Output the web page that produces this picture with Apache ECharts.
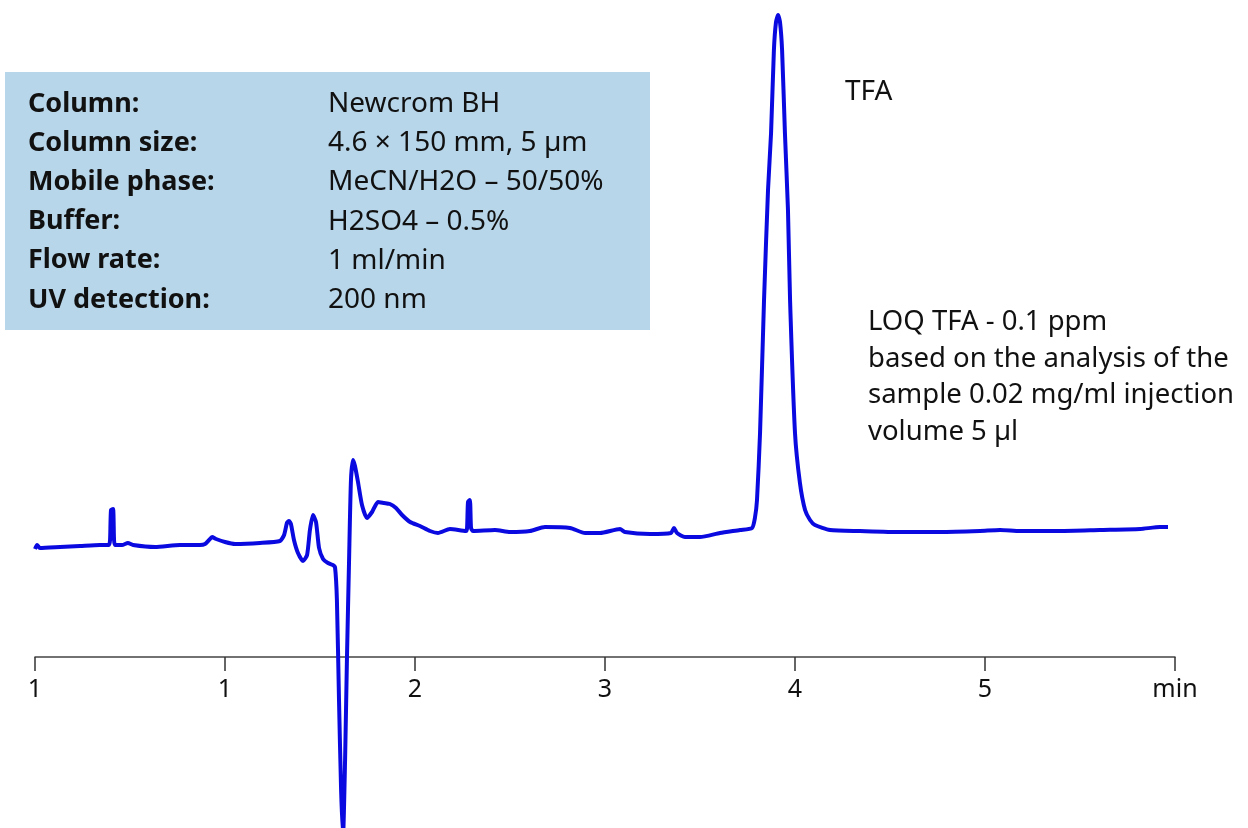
<!DOCTYPE html>
<html>
<head>
<meta charset="utf-8">
<script src="https://cdn.jsdelivr.net/npm/echarts@6/dist/echarts.min.js"></script>
<style>
  html, body { margin: 0; padding: 0; background: #fff; }
  #main { width: 1248px; height: 828px; }
</style>
</head>
<body>
<div id="main"></div>
<script>
// retention time (min) and detector signal
var timeMin = [0.000, 0.011, 0.026, 0.132, 0.237, 0.342, 0.389, 0.395, 0.400, 0.411, 0.416, 0.421, 0.458, 0.489, 0.516,
    0.632, 0.763, 0.868, 0.895, 0.916, 0.932, 0.953, 1.000, 1.053, 1.184, 1.289, 1.311, 1.326, 1.337, 1.347, 1.363,
    1.384, 1.411, 1.432, 1.447, 1.463, 1.479, 1.495, 1.516, 1.542, 1.568, 1.579, 1.589, 1.600, 1.611, 1.621, 1.632,
    1.642, 1.653, 1.663, 1.674, 1.684, 1.700, 1.721, 1.747, 1.774, 1.805, 1.837, 1.868, 1.900, 1.932, 1.974, 2.026,
    2.079, 2.121, 2.184, 2.268, 2.274, 2.279, 2.289, 2.295, 2.305, 2.421, 2.500, 2.605, 2.684, 2.816, 2.895, 2.974,
    3.079, 3.105, 3.237, 3.347, 3.363, 3.379, 3.421, 3.500, 3.605, 3.711, 3.774, 3.789, 3.800, 3.816, 3.837, 3.858,
    3.874, 3.889, 3.900, 3.911, 3.921, 3.932, 3.947, 3.963, 3.974, 4.000, 4.026, 4.053, 4.079, 4.105, 4.184, 4.342,
    4.553, 4.763, 4.974, 5.079, 5.184, 5.395, 5.605, 5.816, 5.921, 5.963];
var signal = [10.8, 11.2, 10.9, 11.0, 11.1, 11.2, 11.2, 11.7, 14.7, 14.8, 11.7, 11.2, 11.2, 11.4, 11.2,
    11.0, 11.2, 11.2, 11.3, 11.7, 12.0, 11.8, 11.5, 11.3, 11.4, 11.6, 12.2, 13.4, 13.6, 13.3, 11.7,
    10.4, 9.6, 10.2, 12.7, 14.2, 13.5, 10.9, 9.8, 9.4, 9.2, 9.0, 5.7, -4.3, -13.3, -18.0, -10.3,
    0.0, 9.7, 17.7, 19.7, 19.1, 17.5, 15.2, 13.9, 14.5, 15.5, 15.4, 15.3, 14.9, 14.2, 13.5, 13.1,
    12.6, 12.4, 12.8, 12.6, 12.9, 15.5, 15.7, 12.9, 12.6, 12.7, 12.5, 12.6, 13.0, 12.9, 12.4, 12.4,
    12.8, 12.5, 12.3, 12.4, 12.9, 12.4, 12.0, 12.0, 12.4, 12.7, 12.9, 13.9, 15.7, 22.4, 35.7, 46.7,
    52.4, 60.7, 63.5, 64.2, 63.5, 60.7, 52.4, 44.7, 35.7, 22.4, 17.4, 14.7, 13.7, 13.2, 12.7, 12.6,
    12.5, 12.5, 12.6, 12.7, 12.6, 12.6, 12.7, 12.8, 13.0, 13.0];

// axis labels as printed on the original
var tickLabels = ['1', '1', '2', '3', '4', '5', 'min'];

var infoNames = ['Column:', 'Column size:', 'Mobile phase:', 'Buffer:', 'Flow rate:', 'UV detection:'];
var infoValues = ['Newcrom BH', '4.6 × 150 mm, 5 µm', 'MeCN/H2O – 50/50%', 'H2SO4 – 0.5%', '1 ml/min', '200 nm'];

var peakLabel = 'TFA';
var noteLines = ['LOQ TFA - 0.1 ppm', 'based on the analysis of the', 'sample 0.02 mg/ml injection', 'volume 5 µl'];

var chart = echarts.init(document.getElementById('main'));
var FONT = '"Noto Sans", sans-serif';

var points = timeMin.map((t, i) => [t, signal[i]]);

// info box
var graphics = [{
    type: 'rect',
    shape: { x: 5, y: 72, width: 645, height: 258 },
    style: { fill: '#b8d6e9' },
    z: 0
}];
infoNames.forEach((name, i) => {
    graphics.push({
        type: 'text', x: 28, y: 104 + i * 39.2,
        style: { text: name, font: 'bold 27px ' + FONT, fill: '#111', verticalAlign: 'middle' }
    });
    graphics.push({
        type: 'text', x: 328, y: 104 + i * 39.2,
        style: { text: infoValues[i], font: '28px ' + FONT, fill: '#111', verticalAlign: 'middle' }
    });
});
graphics.push({
    type: 'text', x: 845, y: 92,
    style: { text: peakLabel, font: '28px ' + FONT, fill: '#111', verticalAlign: 'middle' }
});
noteLines.forEach((line, i) => {
    graphics.push({
        type: 'text', x: 868, y: 322 + i * 36.8,
        style: { text: line, font: '27.5px ' + FONT, fill: '#111', verticalAlign: 'middle' }
    });
});

var option = {
    animation: false,
    backgroundColor: '#fff',
    // grid bottom sits on the time axis; the negative dip is drawn below it
    grid: { left: 35, right: 73, top: 0, bottom: 171, containLabel: false, outerBoundsMode: 'none' },
    xAxis: {
        type: 'value',
        min: 0,
        max: 6,
        interval: 1,
        axisLine: { onZero: false, lineStyle: { color: '#444', width: 1.5 } },
        axisTick: { show: true, length: 14, inside: false, lineStyle: { color: '#333', width: 1.5 } },
        axisLabel: {
            margin: 20,
            fontSize: 25,
            fontFamily: FONT,
            color: '#111',
            formatter: v => tickLabels[Math.round(v)]
        },
        splitLine: { show: false }
    },
    yAxis: {
        type: 'value',
        min: 0,
        max: 65.7,
        show: false,
        splitLine: { show: false }
    },
    series: [{
        type: 'line',
        data: points,
        showSymbol: false,
        smooth: 0.2,
        clip: false,
        lineStyle: { color: '#0a0ae0', width: 4 },
        z: 3
    }],
    graphic: graphics
};

chart.setOption(option);
</script>
</body>
</html>
